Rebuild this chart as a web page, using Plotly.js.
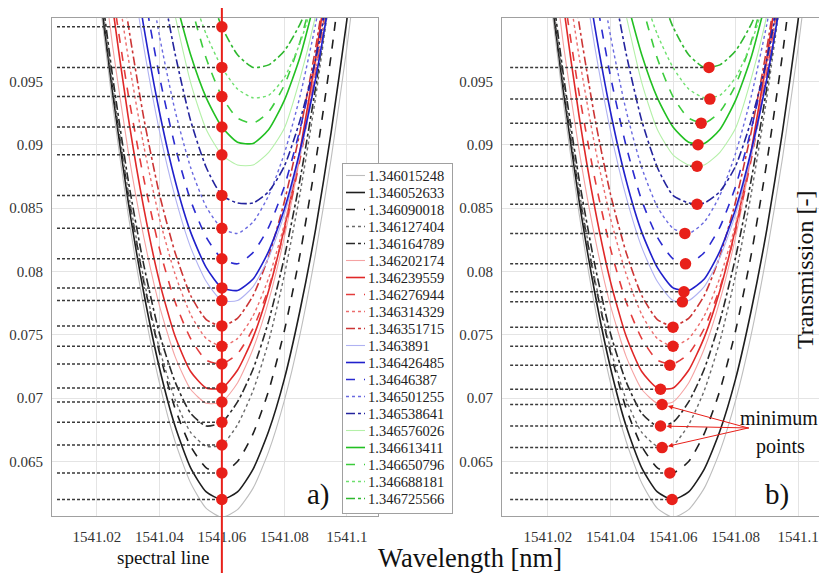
<!DOCTYPE html>
<html><head><meta charset="utf-8">
<script src="https://cdn.plot.ly/plotly-3.0.1.min.js"></script>
<style>html,body{margin:0;padding:0;background:#fff}#chart{width:819px;height:573px}</style>
</head><body><div id="chart"></div>
<script>
// ---------------- data ----------------
const wavelength = [1541.015, 1541.020, 1541.025, 1541.030, 1541.035, 1541.040, 1541.045, 1541.050, 1541.055, 1541.060,
                    1541.065, 1541.070, 1541.075, 1541.080, 1541.085, 1541.090, 1541.095, 1541.100, 1541.105];
const refractiveIndex = ['1.346015248','1.346052633','1.346090018','1.346127404','1.346164789',
  '1.346202174','1.346239559','1.346276944','1.346314329','1.346351715',
  '1.3463891','1.346426485','1.34646387','1.346501255','1.346538641',
  '1.346576026','1.346613411','1.346650796','1.346688181','1.346725566'];

const T_1346015248 = [.1145,.1032,.0932,.0845,.0772,.0712,.0666,.0633,.0613,.0606,.0612,.0629,.0658,.0698,.0750,.0814,.0889,.0976,.1074];
const T_1346052633 = [.1152,.1040,.0941,.0855,.0783,.0724,.0678,.0645,.0626,.0620,.0626,.0644,.0674,.0715,.0769,.0833,.0910,.0998,.1098];
const T_1346090018 = [.1148,.1039,.0944,.0861,.0792,.0736,.0692,.0662,.0645,.0641,.0650,.0672,.0706,.0753,.0813,.0886,.0971,.1070,null];
const T_1346127404 = [.1157,.1045,.0947,.0863,.0794,.0739,.0699,.0673,.0662,.0663,.0679,.0706,.0745,.0797,.0861,.0937,.1026,null,null];
const T_1346164789 = [.1160,.1050,.0954,.0872,.0805,.0751,.0713,.0688,.0678,.0681,.0697,.0723,.0761,.0811,.0872,.0945,.1029,null,null];
const T_1346202174 = [null,.1075,.0978,.0895,.0827,.0773,.0733,.0707,.0696,.0697,.0712,.0739,.0777,.0827,.0890,.0964,.1051,null,null];
const T_1346239559 = [null,.1111,.1009,.0922,.0850,.0792,.0749,.0721,.0708,.0708,.0722,.0748,.0785,.0834,.0895,.0968,.1054,null,null];
const T_1346276944 = [null,.1114,.1021,.0940,.0873,.0818,.0776,.0747,.0730,.0727,.0735,.0755,.0787,.0832,.0888,.0957,.1037,null,null];
const T_1346314329 = [null,null,.1051,.0969,.0899,.0842,.0798,.0766,.0747,.0741,.0747,.0765,.0795,.0837,.0891,.0957,.1035,null,null];
const T_1346351715 = [null,null,.1082,.0995,.0921,.0861,.0815,.0781,.0762,.0757,.0763,.0781,.0812,.0855,.0910,.0976,.1055,null,null];
const T_1346389100 = [null,null,.1146,.1055,.0977,.0911,.0859,.0819,.0792,.0777,.0777,.0788,.0811,.0845,.0892,.0951,.1022,null,null];
const T_1346426485 = [null,null,null,.1072,.0993,.0926,.0872,.0831,.0803,.0787,.0785,.0794,.0816,.0849,.0895,.0952,.1022,null,null];
const T_1346463870 = [null,null,null,.1103,.1022,.0954,.0899,.0856,.0827,.0810,.0806,.0815,.0835,.0867,.0912,.0968,.1037,null,null];
const T_1346501255 = [null,null,null,null,.1059,.0986,.0927,.0882,.0851,.0834,.0830,.0839,.0860,.0893,.0938,.0995,.1064,null,null];
const T_1346538641 = [null,null,null,null,null,.1037,.0972,.0919,.0882,.0860,.0854,.0854,.0863,.0883,.0919,.0967,.1032,null,null];
const T_1346576026 = [null,null,null,null,null,.1060,.1002,.0949,.0912,.0892,.0884,.0884,.0894,.0913,.0952,.1002,.1070,null,null];
const T_1346613411 = [null,null,null,null,null,null,.1016,.0971,.0937,.0914,.0902,.0901,.0912,.0935,.0969,.1016,null,null,null];
const T_1346650796 = [null,null,null,null,null,null,null,.1011,.0968,.0938,.0921,.0917,.0926,.0947,.0981,.1027,null,null,null];
const T_1346688181 = [null,null,null,null,null,null,null,.1022,.0987,.0961,.0944,.0937,.0939,.0953,.0980,.1019,null,null,null];
const T_1346725566 = [null,null,null,null,null,null,null,null,.1027,.0993,.0971,.0961,.0963,.0974,.0995,.1024,null,null,null];

const spectralLine = 1541.06;
const spectralLineT = [.0606,.0620,.0641,.0663,.0681,.0697,.0708,.0727,.0741,.0757,.0777,.0787,.0810,.0834,.0860,.0892,.0914,.0938,.0961,.0993];
const minPointX = [1541.0600,1541.0597,1541.0590,1541.0565,1541.0560,1541.0565,1541.0560,1541.0590,1541.0600,1541.0600,
                   1541.0630,1541.0635,1541.0640,1541.0638,1541.0677,1541.0677,1541.0680,1541.0690,1541.0718,1541.0715];
const minPointT = [.0606,.0620,.0641,.0661,.0678,.0695,.0707,.0726,.0741,.0756,.0776,.0784,.0806,.0830,.0853,.0883,.0900,.0917,.0936,.0961];
const xTicks = [1541.02, 1541.04, 1541.06, 1541.08, 1541.1];
const xTickText = ['1541.02','1541.04','1541.06','1541.08','1541.1'];
const yTicks = [0.065, 0.07, 0.075, 0.08, 0.085, 0.09, 0.095];
const yTickText = ['0.065','0.07','0.075','0.08','0.085','0.09','0.095'];

// ---------------- styles ----------------
const curves = [T_1346015248,T_1346052633,T_1346090018,T_1346127404,T_1346164789,
  T_1346202174,T_1346239559,T_1346276944,T_1346314329,T_1346351715,
  T_1346389100,T_1346426485,T_1346463870,T_1346501255,T_1346538641,
  T_1346576026,T_1346613411,T_1346650796,T_1346688181,T_1346725566];
const groupColors = [
  ['#bdbdbd','#1e1e1e','#1e1e1e','#6a6a6a','#2a2a2a'],
  ['#f5a3a3','#e02828','#e43c3c','#ec6d6d','#cc3535'],
  ['#b0b2f2','#2020cc','#2a2ad0','#6a6ae0','#24249e'],
  ['#b4f0a8','#22c022','#3ccc3c','#6ee06e','#2eb82e']];
const dashes = ['solid','solid','dash','dot','dashdot'];
const widths = [1.1, 1.6, 1.6, 1.4, 1.6];
const FONT = '"Liberation Serif", "Times New Roman", serif';
const RED = '#e8201a';
const rangeL = [1541.0056, 1541.1100];
const rangeR = [1541.0053, 1541.1067];
const hStartL = 1541.0072, hStartR = 1541.0079;

const traces = [];
['x','x2'].forEach((xa, p) => {
  const ya = p === 0 ? 'y' : 'y2';
  curves.forEach((c, i) => {
    const g = Math.floor(i / 5), k = i % 5;
    traces.push({x: wavelength, y: c, xaxis: xa, yaxis: ya, mode: 'lines', name: refractiveIndex[i],
      showlegend: p === 0, hoverinfo: 'skip',
      line: {color: groupColors[g][k], dash: dashes[k], width: widths[k], shape: 'spline', smoothing: 0.6}});
  });
});
// horizontal dotted guides
spectralLineT.forEach(v => traces.push({x: [hStartL, spectralLine], y: [v, v], xaxis: 'x', yaxis: 'y', mode: 'lines',
  showlegend: false, hoverinfo: 'skip', line: {color: '#3a3a3a', width: 1.5, dash: '3px,2px'}}));
minPointT.forEach((v, i) => traces.push({x: [hStartR, minPointX[i]], y: [v, v], xaxis: 'x2', yaxis: 'y2', mode: 'lines',
  showlegend: false, hoverinfo: 'skip', line: {color: '#3a3a3a', width: 1.5, dash: '3px,2px'}}));
// red points
traces.push({x: spectralLineT.map(() => spectralLine), y: spectralLineT, xaxis: 'x', yaxis: 'y', mode: 'markers',
  showlegend: false, cliponaxis: false, marker: {color: RED, size: 11.5}});
traces.push({x: minPointX, y: minPointT, xaxis: 'x2', yaxis: 'y2', mode: 'markers',
  showlegend: false, cliponaxis: false, marker: {color: RED, size: 11.5}});

const H = 573, W = 819;
const yDom = [(H - 516) / H, (H - 18) / H];
const axBase = {showgrid: true, gridcolor: '#e4e4e4', gridwidth: 1, zeroline: false, showline: true,
  linecolor: '#a0a0a0', linewidth: 1, ticks: '', tickfont: {family: FONT, size: 15, color: '#333'}};
const px = (x, y) => ({x: x / W, y: 1 - y / H});

const arrowIdx = [5, 4, 3];
const arrowAx = [88, 90, 88], arrowAy = [24, 2, -20];
const ann = [
  {...px(318, 494), text: 'a)', font: {family: FONT, size: 29, color: '#111'}},
  {...px(777, 494), text: 'b)', font: {family: FONT, size: 29, color: '#111'}},
  {...px(470, 558), text: 'Wavelength [nm]', font: {family: FONT, size: 26.5, color: '#111'}},
  {...px(163, 557), text: 'spectral line', font: {family: FONT, size: 19, color: '#111'}},
  {...px(805, 270), text: 'Transmission [-]', textangle: -90, font: {family: FONT, size: 24, color: '#111'}},
  {...px(779, 418), text: 'minimum', font: {family: FONT, size: 20, color: '#111'}},
  {...px(780, 446), text: 'points', font: {family: FONT, size: 20, color: '#111'}}
].map(a => ({...a, xref: 'paper', yref: 'paper', showarrow: false, xanchor: 'center', yanchor: 'middle'}));
arrowIdx.forEach((i, j) => ann.push({x: minPointX[i], y: minPointT[i], xref: 'x2', yref: 'y2', text: '',
  showarrow: true, arrowhead: 2, arrowsize: 1, arrowwidth: 1, arrowcolor: RED, standoff: 6,
  ax: arrowAx[j], ay: arrowAy[j]}));

const layout = {
  width: W, height: H, margin: {l: 0, r: 0, t: 0, b: 0},
  paper_bgcolor: '#fff', plot_bgcolor: '#fff', showlegend: true,
  font: {family: FONT, color: '#222'},
  xaxis: {...axBase, domain: [52 / W, 378 / W], range: rangeL, tickvals: xTicks, ticktext: xTickText,
          mirror: true, anchor: 'y', ticklabelstandoff: 7},
  yaxis: {...axBase, domain: yDom, range: [0.0607, 0.1], tickvals: yTicks, ticktext: yTickText,
          mirror: true, anchor: 'x', ticklabelstandoff: 5},
  xaxis2: {...axBase, domain: [502 / W, 1], range: rangeR, tickvals: xTicks, ticktext: xTickText,
           mirror: true, anchor: 'y2', ticklabelstandoff: 7},
  yaxis2: {...axBase, domain: yDom, range: [0.0607, 0.1], tickvals: yTicks, ticktext: yTickText,
           mirror: false, anchor: 'x2', ticklabelstandoff: 5},
  legend: {x: 342 / W, y: 1 - 163 / H, xanchor: 'left', yanchor: 'top', bgcolor: '#fff',
           bordercolor: '#a0a0a0', borderwidth: 1, font: {family: FONT, size: 12, color: '#222'},
           tracegroupgap: 0, itemwidth: 30},
  shapes: [{type: 'line', xref: 'x', yref: 'paper', x0: spectralLine, x1: spectralLine, y0: 0, y1: 1 - 8 / H,
            line: {color: RED, width: 2}, layer: 'above'}],
  annotations: ann
};

// legend compaction (row pitch, sample length and text size as in the reference)
const ROW_PITCH = 17.0, ROW_SHIFT = -3, SAMPLE_LEN = 19, TEXT_X = 25, LEGEND_W = 110, LEGEND_FS = 14.5;
Plotly.newPlot('chart', traces, layout, {staticPlot: true, displayModeBar: false}).then(gd => {
  const items = Array.from(gd.querySelectorAll('.legend .traces'));
  if (items.length < 2) return;
  const tops = items.map(el => el.getBoundingClientRect().top);
  const pitch = (tops[tops.length - 1] - tops[0]) / (items.length - 1);
  items.forEach((el, i) => {
    const dy = i * (ROW_PITCH - pitch) + ROW_SHIFT;
    el.setAttribute('transform', (el.getAttribute('transform') || '') + ' translate(0,' + dy.toFixed(2) + ')');
    el.querySelectorAll('.legendlines path').forEach(p => p.setAttribute('d', 'M3,0h' + SAMPLE_LEN));
    const t = el.querySelector('.legendtext');
    if (t) {
      t.style.fontSize = LEGEND_FS + 'px';
      t.setAttribute('x', TEXT_X);
      t.setAttribute('y', (0.3 * 1.3 * LEGEND_FS).toFixed(2));
      t.querySelectorAll('tspan[x]').forEach(s => s.setAttribute('x', TEXT_X));
    }
  });
  const bg = gd.querySelector('.legend .bg');
  if (bg) {
    const h = parseFloat(bg.getAttribute('height'));
    bg.setAttribute('height', (h - (items.length - 1) * (pitch - ROW_PITCH) + ROW_SHIFT).toFixed(1));
    bg.setAttribute('width', LEGEND_W);
  }
});
</script></body></html>
